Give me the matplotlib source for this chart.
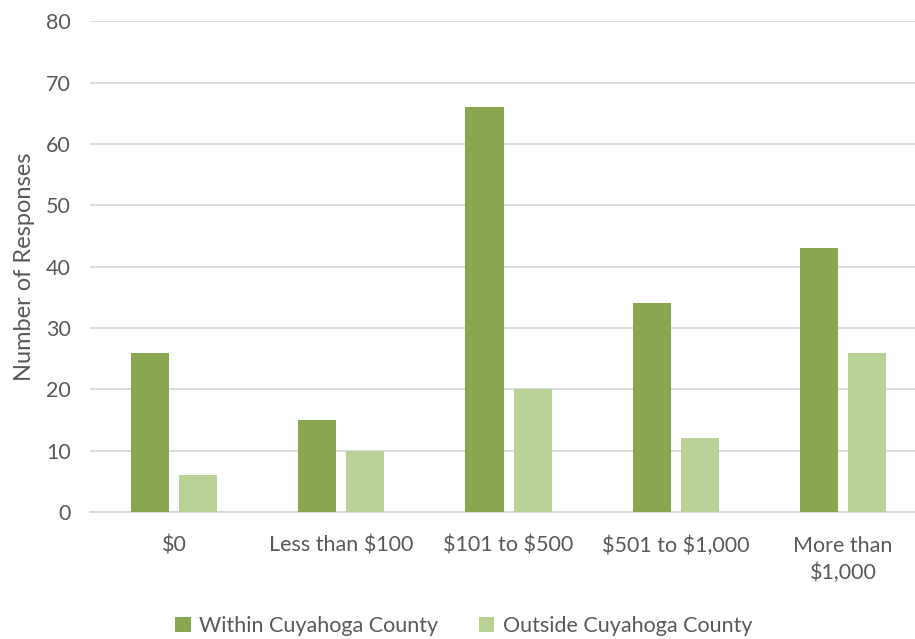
import numpy as np
import matplotlib.pyplot as plt

categories = ['$0', 'Less than $100', '$101 to $500', '$501 to $1,000', 'More than\n$1,000']
within = [26, 15, 66, 34, 43]
outside = [6, 10, 20, 12, 26]
series_names = ['Within Cuyahoga County', 'Outside Cuyahoga County']

plt.rcParams['font.family'] = ['Lato', 'DejaVu Sans']
plt.rcParams['text.parse_math'] = False

fig = plt.figure(figsize=(9.15, 6.39), dpi=100)
ax = fig.add_axes([0.0988, 0.1987, 0.914, 0.768])

x = np.arange(len(categories))
w = 0.228
off = 0.144
ax.bar(x - off, within, w, color='#8aa64e', label=series_names[0], zorder=3)
ax.bar(x + off, outside, w, color='#b9d097', label=series_names[1], zorder=3)

ax.set_xlim(-0.5, 4.5)
ax.set_ylim(0, 80)
ax.set_yticks(range(0, 81, 10))
ax.set_xticks(x)
ax.set_xticklabels(categories, linespacing=1.4)
ax.tick_params(axis='both', length=0, labelsize=15.5, colors='#595959')
ax.tick_params(axis='x', pad=17)
ax.tick_params(axis='y', pad=14)
ax.grid(axis='y', color='#d9d9d9', lw=1.3, zorder=0)
for s in ['top', 'right', 'left']:
    ax.spines[s].set_visible(False)
ax.spines['bottom'].set_color('#d9d9d9')
ax.spines['bottom'].set_linewidth(1.3)
ax.set_ylabel('Number of Responses', fontsize=17, color='#595959', labelpad=8)

fig.legend(loc='lower center', bbox_to_anchor=(0.507, -0.026), ncol=2, frameon=False,
           fontsize=15.5, labelcolor='#595959', handlelength=0.7, handleheight=0.7,
           handletextpad=0.4, columnspacing=1.9)

fig.savefig('out.png', dpi=100)
